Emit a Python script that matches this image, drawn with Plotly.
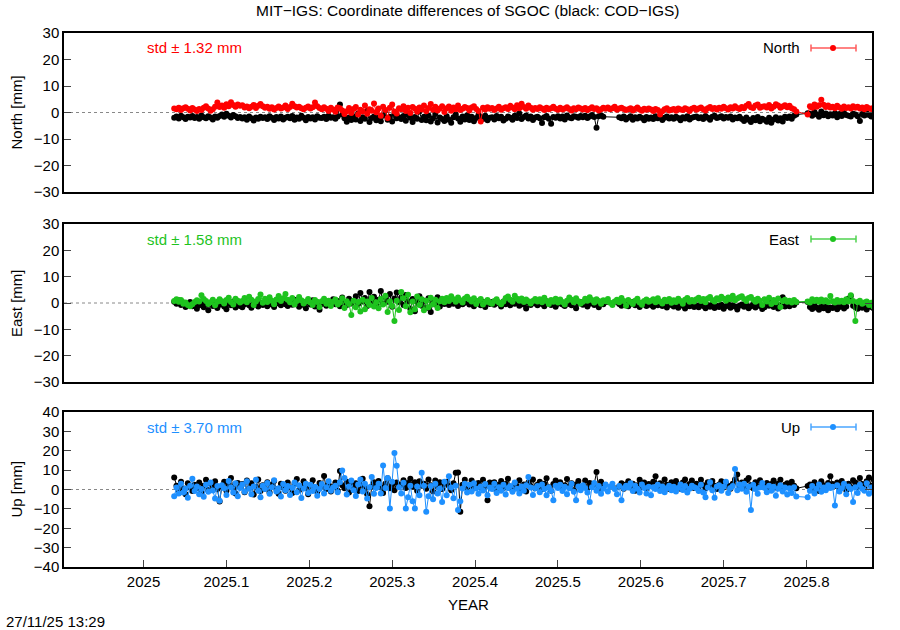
import numpy as np
import plotly.graph_objects as go

# ---------------- data (daily, day-of-year 14 .. 323 of 2025) ----------------
DOY_FIRST = 14
DOY_LAST = 323

north_mit = [
    1.5, 1.2, 1.8, 0.9, 1.6, 2.0, 1.4, 0.8, 1.7, 1.1,
    0.6, 1.3, 0.9, 1.8, 2.4, 1.5, 0.7, 1.2, 2.2, 3.8,
    2.1, 2.6, 1.8, 3.1, 2.4, 3.9, 2.8, 2.2, 3.0, 2.5,
    2.7, 1.9, 2.3, 1.6, 2.2, 2.8, 1.7, 2.5, 3.2, 2.4,
    1.8, 2.2, 1.4, 2.0, 1.1, 1.7, 2.3, 1.5, 1.9, 2.6,
    1.3, 2.1, 3.3, 2.4, 1.9, 2.2, 1.6, 1.2, 1.8, 2.3,
    1.5, 2.0, 3.8, 2.4, 1.7, 1.2, 2.0, 1.4, 0.6, 1.8,
    1.1, 0.3, 1.9, 1.6, 0.8, -0.6, 0.5, 1.7, -0.2, 1.3,
    2.1, -0.8, 1.0, 0.4, 2.6, -0.5, 1.2, 0.7, 3.4, 0.1,
    1.5, -1.2, 2.2, 0.9, -2.1, 1.8, 3.0, 0.4, -0.4, 1.6,
    1.2, 2.4, 0.6, 1.8, -0.2, 2.1, 1.4, 0.3, 1.9, 1.1,
    2.6, 0.5, 1.7, 3.2, 1.0, 2.2, 0.8, 1.5, 2.4, 0.2,
    1.6, 2.3, 0.7, 1.9, 1.2, 2.6, 0.9, 1.4, 2.1, 1.7,
    0.8, 1.9, 2.4, 1.3, 0.6, -3.4, 1.8, 1.1, 2.0, 1.4,
    1.7, 0.9, 1.5, 2.2, 1.0, 1.6, 2.0, 1.3, 2.5, 1.9,
    1.2, 2.7, 1.6, 3.3, 2.1, 1.4, 2.6, 1.8, 1.0, 1.7,
    1.3, 2.0, 1.5, 0.9, 1.8, 1.2, 1.6, 2.2, 1.4, 1.0,
    1.8, 1.1, 1.5, 2.0, 1.3, 0.8, 1.6, 1.2, 1.9, 1.5,
    1.1, 1.7, 0.9, 1.4, 2.0, 1.3, 1.6, 0.8, 1.2, 1.8,
    1.4, 1.9, 1.2, 1.6, 2.2, 1.0, 1.5, 1.8, 1.3, 0.9,
    1.2, 1.6, 0.8, 1.3, 1.9, 1.1, 0.7, 1.4, 1.0, 1.5,
    1.1, 0.6, 1.3, 0.9, -0.8, 0.5, 1.2, 1.6, 0.8, 1.0,
    1.3, 0.7, 1.5, 1.1, 0.9, 1.6, 1.2, 0.6, 1.4, 1.8,
    1.0, 1.5, 1.9, 1.2, 0.8, 1.6, 2.1, 1.3, 1.7, 1.1,
    1.8, 1.4, 2.2, 1.6, 1.1, 2.0, 1.5, 2.4, 1.7, 1.3,
    2.1, 1.6, 2.5, 3.2, 2.0, 1.7, 2.6, 3.0, 1.8, 2.2,
    2.4, 1.9, 2.8, 1.5, 2.2, 3.1, 2.6, 1.8, 2.3, 2.7,
    2.0, 2.5, 1.6, 1.2, 0.4, None, None, None, None, -0.8,
    2.4, 1.8, 3.0, 2.2, 2.7, 4.8, 2.9, 2.1, 2.6, 1.9,
    2.2, 1.6, 2.5, 1.9, 1.4, 2.3, 1.7, 2.0, 1.5, 2.4,
    1.8, 2.2, 1.5, 1.9, 1.2, 2.1, 1.6, 1.3, 1.8, 1.0,
]

north_cod = [
    -2.0, -1.5, -2.3, -1.2, -1.8, -2.5, -1.6, -1.9, -1.3, -2.1,
    -1.7, -2.4, -1.1, -1.8, -2.2, -1.4, -1.9, -2.6, -1.5, -2.0,
    -1.3, -0.8, -1.6, -0.5, -1.2, -1.9, -0.9, -1.4, -2.1, -1.7,
    -2.3, -1.8, -2.7, -1.5, -2.2, -3.0, -1.9, -2.4, -1.6, -2.1,
    -1.8, -2.5, -1.4, -2.0, -2.8, -1.7, -2.3, -1.5, -2.6, -2.0,
    -1.6, -2.2, -1.3, -2.7, -1.9, -2.4, -1.2, -2.0, -2.9, -1.7,
    -2.3, -1.8, -2.6, -1.4, -2.0, -2.1, -1.6, -2.5, -1.2, -2.0,
    -1.8, -2.4, -1.5, 3.0, -0.8, -2.2, -3.5, -1.9, -2.8, -1.4,
    -2.6, -0.4, -3.2, -1.8, -2.4, 0.6, -3.6, -2.1, -1.5, -2.9,
    -2.0, -3.3, -1.2, 0.8, -2.7, -1.6, -3.4, -0.5, -2.2, -1.8,
    -2.5, -1.3, -3.1, -0.9, -2.0, -3.6, -1.7, -2.4, 0.4, -2.8,
    -1.6, -2.9, -1.1, -3.4, -2.2, -0.6, -3.8, -1.9, -2.5, -3.2,
    -1.4, -2.7, -3.9, -1.8, -0.8, -2.3, -3.5, -1.5, -2.6, -1.0,
    -2.8, -1.6, -3.3, -2.1, -0.9, -1.7, -2.5, -1.2, -2.9, -2.0,
    -1.8, -2.6, -1.3, -2.2, -1.6, -3.0, -2.4, -1.5, -2.0, -2.7,
    -1.2, -2.1, -0.4, -2.5, -1.7, -1.1, -2.3, -1.5, -2.8, -1.9,
    -1.6, -2.2, -4.0, -1.8, -1.3, -2.4, -4.2, -1.7, -2.0, -1.4,
    -2.3, -1.5, -2.6, -1.1, -1.9, -2.2, -1.4, -1.6, -2.0, -1.3,
    -1.8, -1.2, -2.1, -1.5, -0.9, -1.7, -5.8, -1.4, -1.0, -1.6,
    None, None, None, None, None, None, -1.8, -2.2, -1.5, -2.6,
    -2.0, -1.4, -2.7, -1.8, -2.3, -1.6, -2.1, -2.9, -1.7, -2.4,
    -1.9, -2.5, -1.4, -2.2, -1.7, -2.8, -2.0, -1.5, -2.3, -1.8,
    -2.4, -1.6, -2.1, -2.9, -1.8, -2.3, -1.4, -2.6, -2.0, -1.7,
    -1.5, -2.2, -1.8, -2.5, -1.3, -2.0, -2.7, -1.6, -1.2, -2.1,
    -1.8, -1.4, -2.3, -1.7, -2.0, -1.5, -2.6, -1.9, -2.2, -1.6,
    -2.5, -3.2, -1.9, -2.7, -3.6, -2.1, -2.9, -1.7, -3.3, -2.4,
    -2.8, -3.5, -2.0, -3.9, -2.6, -1.8, -3.0, -2.2, -3.4, -1.6,
    -2.1, -1.5, -2.4, -1.2, -0.8, None, None, None, None, -0.3,
    -0.5, -1.2, 0.2, -0.8, -1.6, 0.4, -1.0, -0.4, -1.4, -0.7,
    -1.1, -0.3, -1.8, -0.6, -1.3, -0.2, -0.9, -1.2, -1.5, -0.5,
    -0.8, -1.4, -3.2, -0.6, -1.1, -0.3, -0.9, -1.5, -0.4, -1.0,
]

east_mit = [
    0.8, 1.4, 0.5, 1.1, -0.3, 0.2, -0.8, -1.2, -0.5, 0.4,
    1.0, 0.6, 2.9, 1.5, 0.8, -0.4, 0.3, 1.2, -0.9, 0.5,
    1.4, 0.7, -0.2, 1.1, 2.0, 0.4, -0.6, 1.6, 0.9, 0.2,
    0.8, 1.9, 0.3, 2.4, 1.2, -0.8, 0.6, 1.5, 3.2, 0.1,
    1.6, 0.4, 2.2, 0.9, -0.5, 1.3, 2.7, 0.8, 1.8, 3.4,
    1.2, 0.3, 1.9, -0.6, 0.8, 2.3, 1.0, -0.2, 0.6, 1.5,
    0.2, -0.8, 1.1, 0.4, -1.5, 0.7, 1.6, -0.3, 0.9, -1.1,
    0.5, 1.3, -0.6, 0.2, 1.8, -1.9, 0.7, -0.4, -4.6, 0.9,
    -1.6, 0.4, -3.2, 1.2, -2.4, 0.6, -0.8, 1.9, -1.3, 0.3,
    -2.0, 1.5, -0.6, 2.8, -3.4, 0.7, -1.1, -6.8, 0.9, -2.7,
    4.2, 1.8, -1.2, 3.1, -3.5, 0.6, -2.4, 2.5, -0.8, 1.4,
    -2.8, 0.9, -1.6, 2.0, -0.5, 1.2, -1.9, 0.7, 1.6, 0.3,
    1.9, 0.8, 2.6, 1.4, 0.5, 2.1, 1.0, 0.2, 1.7, 2.4,
    1.3, 0.6, 1.8, -0.4, 0.9, 1.5, -0.6, 0.4, 1.1, 0.1,
    -0.3, 0.8, 1.4, 0.2, -0.5, 0.6, 1.9, 2.5, 1.2, 0.5,
    2.8, 1.6, 0.9, 1.7, 0.4, 1.3, 0.7, -0.2, 0.8, 1.5,
    0.6, 1.4, 0.3, 2.0, 0.8, -0.4, 1.1, 0.5, 1.6, 0.2,
    1.3, 0.4, -0.6, 0.9, 2.1, 1.2, 0.3, 1.8, 0.7, -0.2,
    0.5, 1.6, 0.9, 2.2, 1.1, 0.2, 1.4, 0.8, -0.3, 1.0,
    0.7, 1.5, 0.1, -0.8, 0.6, 1.2, 0.3, 1.9, 0.8, -1.0,
    1.1, 0.4, -0.4, 0.9, 1.6, 0.2, -0.7, 0.8, 1.3, 0.5,
    0.9, 1.4, 0.3, 1.8, 0.6, -0.2, 1.2, 0.7, 1.5, 0.1,
    1.0, 0.4, 1.6, 0.8, -0.3, 1.2, 1.9, 0.5, 1.1, 0.6,
    1.4, 2.0, 0.8, 1.5, 0.3, 1.7, 2.3, 1.1, 0.6, 1.8,
    1.2, 2.4, 1.6, 0.9, 2.1, 1.4, 2.8, 1.0, 1.7, 2.2,
    2.6, 1.5, 0.8, 1.9, 2.3, 1.2, 0.5, 1.6, 0.9, -0.8,
    1.4, 0.6, 2.0, -0.4, 1.1, 0.3, 1.7, -1.5, 0.8, 1.2,
    0.5, 0.9, 0.2, 1.1, 0.4, None, None, None, None, 0.6,
    0.2, 1.4, 0.8, 1.2, 0.5, 1.3, 0.6, 1.0, 0.4, 2.7,
    0.7, 0.2, 1.1, 0.5, 0.9, 0.3, 1.4, 0.6, 2.9, 0.8,
    -6.8, 0.4, 0.9, -0.3, 0.2, 0.6, -0.8, 0.1, -1.4, -0.6,
]

east_cod = [
    0.5, -0.3, 1.0, -0.8, 0.2, -1.5, -0.6, 0.4, -1.2, -0.4,
    -2.2, -0.9, 0.3, -1.6, -0.5, -2.8, 0.1, -1.1, -0.3, -1.9,
    -0.7, 0.4, -1.3, -2.4, -0.2, -0.9, 0.6, -1.7, -0.4, -1.1,
    -1.6, -0.5, 0.2, -0.9, -1.8, 0.5, -0.6, -1.3, 0.1, -0.8,
    -0.3, -1.2, 0.8, -0.6, -1.5, 0.3, -0.2, -0.9, 1.0, -0.5,
    -1.1, 0.4, -0.7, 1.2, -0.3, -1.4, 0.6, -0.8, -2.0, 0.2,
    -0.6, 1.0, -1.3, 0.3, -2.6, -0.4, 0.7, -1.0, 0.5, -0.2,
    1.4, -0.5, 0.8, -1.2, 2.1, 0.3, -0.8, 1.6, -0.2, 0.9,
    2.6, -0.4, 3.8, 0.6, 1.9, -1.1, 4.2, 0.8, 2.4, -0.6,
    1.2, 4.6, -0.3, 2.2, 0.5, 3.4, -1.4, 1.7, 4.0, 0.4,
    2.1, -0.8, 3.0, 0.7, -2.2, 1.5, -3.1, 0.4, 2.6, -1.0,
    0.9, -1.9, 1.8, -3.4, 0.3, -0.6, 2.2, -1.3, 0.5, -0.4,
    0.6, -0.8, 1.2, -0.3, 0.4, -1.1, 0.8, -0.5, 0.1, 1.0,
    -0.6, 0.3, -1.2, 0.7, -0.2, -0.9, 0.5, -1.5, 0.2, -0.4,
    0.4, -0.7, 0.9, -0.2, -1.3, 0.6, -0.5, 0.2, -0.9, 0.8,
    -0.3, 0.5, -1.0, 0.1, -0.6, -2.1, 0.3, -0.8, 0.6, -0.2,
    -0.9, 0.4, -0.4, -1.2, 0.7, -0.1, -0.8, 0.2, -1.4, -0.3,
    0.5, -0.6, -1.1, 0.3, -0.4, -0.9, 0.6, -2.0, -0.2, 0.4,
    -0.7, 0.2, -1.3, -0.3, 0.5, -0.8, -0.1, -1.6, 0.3, -0.5,
    None, None, None, None, None, None, -0.4, -1.0, 0.2, -0.7,
    -1.2, -0.3, 0.4, -0.9, -0.2, -1.5, 0.1, -0.6, -1.1, -0.4,
    -0.8, -1.4, -0.2, -0.9, 0.3, -1.1, -0.5, -1.7, -0.3, -0.8,
    -1.3, -0.6, -1.8, -0.4, -1.0, -2.1, -0.7, -1.2, -0.3, -1.5,
    -0.9, -1.6, -0.5, -1.1, -2.0, -0.8, -1.4, -0.6, -1.9, -1.0,
    -1.5, -0.7, -2.2, -1.2, -0.4, -1.8, -0.9, -1.3, -2.5, -1.0,
    -0.6, -1.4, -0.9, -2.0, -1.2, -0.5, -1.7, -0.8, -1.1, -2.3,
    -1.6, -0.4, -1.0, 0.8, -1.5, -0.3, -2.1, -0.9, 2.2, -1.3,
    -0.5, -1.2, -0.2, -0.8, 0.2, None, None, None, None, 0.4,
    -1.5, -2.3, -0.9, -1.8, -2.6, -1.2, -2.0, -1.4, -2.8, -1.7,
    -1.9, -1.1, -2.4, -1.5, -0.8, -2.1, -1.3, 1.6, 2.7, -1.0,
    -1.6, -2.2, -0.9, -1.8, -1.2, -2.5, -0.7, -1.5, -2.0, -2.6,
]

up_mit = [
    -3.5, 1.0, -2.0, 3.0, -1.5, 0.5, -4.2, 2.0, 5.5, -0.8,
    1.5, -2.5, 0.3, -3.8, 2.4, -1.2, 3.6, -0.5, -4.6, 1.8,
    -5.8, 2.2, 0.6, -2.8, 4.4, 1.0, -1.6, 3.2, -3.5, 0.8,
    2.6, -1.2, 4.2, 0.4, -2.4, 1.6, 5.0, -0.6, -4.0, 2.0,
    0.3, 3.4, -2.2, 1.2, 4.8, -1.0, 0.6, -3.6, 2.8, -0.4,
    1.8, -2.8, 0.9, 3.6, -1.4, 2.2, -4.4, 0.5, 3.0, -1.8,
    2.4, -0.8, 1.4, -3.2, 0.2, 2.9, -2.0, 1.1, 4.2, -0.6,
    1.0, 2.0, -1.4, 3.8, 9.8, 6.0, -2.6, 1.5, 4.6, -0.4,
    -3.4, 2.6, 5.2, -1.0, 3.0, -4.6, 1.2, 6.4, -2.2, 0.8,
    3.0, -2.0, 12.4, 0.8, 6.0, -9.8, 4.0, 18.8, 12.2, 1.2,
    -2.0, 3.5, -9.8, -4.0, 2.0, -6.0, -9.8, 1.5, -3.0, 8.6,
    2.0, -11.5, -3.5, 1.8, -5.0, 3.0, -2.0, 0.5, -6.5, 4.0,
    -3.0, 6.9, 1.0, -4.5, 2.0, -10.6, -6.0, 0.5, 3.0, -1.5,
    2.5, -1.0, 3.2, 0.5, -2.2, 1.5, -0.5, 2.8, -3.0, 1.0,
    0.2, 3.0, -1.8, 1.2, -0.6, 2.4, -2.6, 0.8, 1.8, -1.2,
    3.6, 0.4, -2.0, 1.6, -0.6, 2.2, 6.5, 1.0, -2.8, 0.6,
    1.8, -1.4, 2.6, 0.2, -3.0, 1.2, -0.6, -5.5, 2.0, 0.8,
    2.4, -0.8, 1.4, -2.4, 0.6, 3.0, -1.2, -5.5, 1.6, -0.4,
    2.2, 0.8, -1.6, -6.4, 1.2, 3.4, -0.6, 1.8, -2.2, 0.4,
    2.6, -1.0, 1.4, 3.0, 0.2, -2.4, 1.8, -5.5, 0.6, 2.0,
    1.0, 3.2, -0.8, 2.0, 0.4, -1.6, 2.6, 0.8, -2.0, 1.4,
    -3.0, 1.2, 0.2, 2.4, -0.8, 1.6, -1.4, 0.6, 2.0, -0.4,
    1.4, -1.0, 0.8, 2.6, -0.2, 1.8, -1.6, 0.4, 2.0, 1.2,
    0.6, -0.8, 2.4, -1.6, -4.0, 1.0, 3.8, -0.4, -4.2, 1.6,
    2.2, -0.6, 1.4, 4.0, -1.8, 0.8, 1.8, 10.6, -0.4, 2.6,
    0.4, 3.0, -1.2, 1.6, -10.6, 2.4, 0.2, -2.2, 1.2, 3.4,
    0.8, -1.4, 2.0, -0.6, 1.4, -3.2, 0.4, 2.2, -1.0, 1.0,
    -2.6, 0.6, -1.8, 1.2, -3.6, None, None, None, None, -4.0,
    -0.6, 1.8, -2.0, 0.4, 2.6, -1.2, 1.0, -0.4, 2.2, 0.8,
    1.4, -8.3, 2.2, -1.0, 0.6, 3.0, -2.4, 1.6, 0.2, -6.4,
    1.2, -1.8, 2.4, 0.4, -0.6, 3.2, -2.2, 1.0, -1.4, -0.4,
]

up_cod = [
    6.2, 2.0, -1.5, 4.0, 0.5, -2.5, 3.2, 1.0, -0.8, 2.4,
    0.8, 3.6, -1.2, 2.0, 5.0, -0.4, 3.0, 1.8, 4.2, 0.2,
    -6.2, 1.6, 4.0, -0.6, 2.6, 6.0, 0.8, -2.0, 3.4, 1.2,
    2.8, -1.4, 4.6, 0.6, 3.2, -2.6, 1.4, 5.2, -0.8, 2.2,
    0.4, 3.8, -1.6, 2.4, 4.4, 0.2, -2.2, 3.0, 1.2, -0.6,
    3.6, 1.0, -1.8, 2.8, 5.4, -0.4, 1.6, 4.2, 0.6, -2.4,
    2.0, 4.8, 0.4, -1.2, 3.4, 1.8, 7.0, 0.2, 2.6, -1.0,
    1.4, 3.6, -0.6, 9.5, 2.2, 0.6, 4.0, -1.6, 2.8, 1.0,
    3.2, -0.8, 2.0, 5.6, 0.4, -2.4, -8.6, 1.6, 3.8, 2.4,
    4.4, 1.2, -1.8, 3.0, 5.8, 0.6, 2.4, -0.4, 3.6, 1.8,
    2.6, 4.8, 0.8, 3.4, 5.6, 1.4, 3.8, -0.6, 4.2, 2.0,
    3.0, 0.4, 5.2, 2.2, -1.0, 4.6, 1.6, 3.8, 0.2, 2.8,
    4.0, 1.8, -0.4, 3.2, 8.6, 8.8, -11.5, 2.4, 5.0, 1.0,
    2.2, 4.6, 0.6, 3.0, 3.4, 1.4, 5.0, 2.0, -5.5, 3.6,
    1.0, 3.8, -0.6, 2.4, 4.4, 0.8, 2.8, 5.6, 1.2, -0.4,
    3.2, 1.6, 4.8, 0.4, 2.6, -1.0, 3.6, 1.8, 5.2, 0.6,
    2.4, 4.0, 0.2, 3.0, 5.8, 1.2, -0.6, 2.8, 4.6, 1.6,
    3.8, 0.8, 2.2, 5.4, 1.4, 3.2, -0.4, 2.6, 4.4, 1.0,
    2.0, 4.6, 0.6, 3.4, 1.8, 2.8, 9.0, 0.2, 4.0, 2.4,
    None, None, None, None, None, None, 1.6, 3.2, 0.4, 2.6,
    4.2, 1.0, 3.0, -0.6, 2.2, 5.0, 1.4, 3.6, 0.6, 2.8,
    2.0, 4.0, 6.9, 0.8, 3.2, 1.6, 5.2, 2.4, 0.2, 3.8,
    1.8, 4.4, 2.6, 0.4, 3.6, 5.2, 1.2, 2.8, 4.6, 0.8,
    3.0, 1.4, 5.0, 2.2, 0.6, 3.8, 1.6, 4.4, 2.0, 0.2,
    2.6, 4.2, 1.0, 3.4, 2.0, 0.4, 3.0, 5.2, 7.8, 1.8,
    3.6, 1.2, 4.6, 6.0, 2.2, 0.6, 3.8, 1.4, 4.8, 2.6,
    1.6, 3.4, 0.2, 2.8, 4.6, 1.0, 3.0, 5.0, 0.8, 2.4,
    3.2, 1.4, 4.0, 2.0, 0.6, None, None, None, None, 1.8,
    2.6, 0.4, 3.8, 1.6, -0.8, 4.2, 2.2, 0.8, 3.4, 6.9,
    2.8, 1.8, 3.6, 0.6, 4.4, 2.4, -0.4, 3.0, 1.2, 4.8,
    3.6, 1.4, 6.0, 2.8, 0.4, 4.2, 6.2, 2.0, 5.2, 1.6,
]

x_ticks = [2025.0, 2025.1, 2025.2, 2025.3, 2025.4, 2025.5, 2025.6, 2025.7, 2025.8]
x_tick_labels = ["2025", "2025.1", "2025.2", "2025.3", "2025.4",
                 "2025.5", "2025.6", "2025.7", "2025.8"]
components = ["North", "East", "Up"]
std_values = [1.32, 1.58, 3.70]

# ---------------- figure ----------------
doy = np.arange(DOY_FIRST, DOY_LAST + 1)
years = 2025 + (doy - 0.5) / 365.0
for arr in (north_mit, north_cod, east_mit, east_cod, up_mit, up_cod):
    assert len(arr) == len(years), len(arr)

FONT = "Liberation Sans, Arial, Helvetica, sans-serif"
FS = 15
RED = "#ff0000"
GREEN = "#1ec31e"
BLUE = "#1e90ff"
colors = [RED, GREEN, BLUE]
KEY_COLORS = ["#ff5a5a", "#4fd24f", "#4aa6ff"]

fig = go.Figure()
series = [(north_cod, north_mit, "y"), (east_cod, east_mit, "y2"), (up_cod, up_mit, "y3")]
xrefs = ["x", "x2", "x3"]
for i, (cod, mit, yax) in enumerate(series):
    fig.add_trace(go.Scatter(
        x=years, y=cod, mode="lines+markers", connectgaps=True,
        line=dict(color="#000000", width=1),
        marker=dict(color="#000000", size=6),
        xaxis=xrefs[i], yaxis=yax, showlegend=False))
    fig.add_trace(go.Scatter(
        x=years, y=mit, mode="lines+markers", connectgaps=True,
        line=dict(color=colors[i], width=1),
        marker=dict(color=colors[i], size=6),
        xaxis=xrefs[i], yaxis=yax, showlegend=False))

XR = [2024.904, 2025.879]
W, H = 900, 630
PW, PH = 808, 534
L = 64
T = 33
R = W - L - PW
B = H - T - PH


def py(pix):
    # screen pixel (from top) -> paper fraction
    return (T + PH - pix) / PH


def px(pix):
    return (pix - L) / PW


# panel pixel extents on screen (top, bottom)
panels = [(33, 192), (224, 382), (412, 567)]
yranges = [[-30, 30], [-30, 30], [-40, 40]]
ydomains = [[py(b), py(t)] for (t, b) in panels]

axis_common = dict(showline=True, linewidth=1.5, linecolor="black",
                   showgrid=False, zeroline=False,
                   tickfont=dict(family=FONT, size=FS, color="black"))

layout = dict(
    width=W, height=H, margin=dict(l=L, r=R, t=T, b=B),
    paper_bgcolor="white", plot_bgcolor="white",
    font=dict(family=FONT, size=FS, color="black"),
    showlegend=False,
)
for i in range(3):
    xa = "xaxis" if i == 0 else f"xaxis{i+1}"
    ya = "yaxis" if i == 0 else f"yaxis{i+1}"
    yanchor = "y" if i == 0 else f"y{i+1}"
    xanchor = "x" if i == 0 else f"x{i+1}"
    last = (i == 2)
    layout[xa] = dict(axis_common, range=XR, domain=[0, 1], anchor=yanchor,
                      mirror=True,
                      tickvals=x_ticks if last else [],
                      ticktext=x_tick_labels if last else [],
                      ticks="inside" if last else "", ticklen=7, tickwidth=1,
                      showticklabels=last)
    layout[ya] = dict(axis_common, range=yranges[i], domain=ydomains[i],
                      anchor=xanchor, dtick=10, tick0=0,
                      ticks="inside", ticklen=7, tickwidth=1, mirror="ticks")
fig.update_layout(**layout)

shapes = []
annotations = []
for i in range(3):
    yref = "y" if i == 0 else f"y{i+1}"
    # dotted zero line
    shapes.append(dict(type="line", xref="paper", yref=yref, x0=0, x1=1, y0=0, y1=0,
                       line=dict(color="#888888", width=1, dash="dot"), layer="below"))
    t, b = panels[i]
    ky = py(t + 15)
    # std annotation
    annotations.append(dict(text=f"std \u00b1 {std_values[i]:.2f} mm", xref="paper", yref="paper",
                            x=px(145), y=ky, xanchor="left", yanchor="middle",
                            showarrow=False, font=dict(family=FONT, size=FS, color=colors[i])))
    # key text
    annotations.append(dict(text=components[i], xref="paper", yref="paper",
                            x=px(802), y=ky, xanchor="right", yanchor="middle",
                            showarrow=False, font=dict(family=FONT, size=FS, color="black")))
    # key sample (error-line style)
    x0, x1, xm = px(811), px(856), px(833)
    cap = 3.5 / PH
    shapes.append(dict(type="line", xref="paper", yref="paper", x0=x0, x1=x1, y0=ky, y1=ky,
                       line=dict(color=KEY_COLORS[i], width=1.5)))
    for xc in (x0, x1):
        shapes.append(dict(type="line", xref="paper", yref="paper", x0=xc, x1=xc,
                           y0=ky - cap, y1=ky + cap, line=dict(color=KEY_COLORS[i], width=1.5)))
    rx, ry = 3 / PW, 3 / PH
    shapes.append(dict(type="circle", xref="paper", yref="paper",
                       x0=xm - rx, x1=xm + rx, y0=ky - ry, y1=ky + ry,
                       fillcolor=colors[i], line=dict(color=colors[i], width=0)))
    # y axis title
    annotations.append(dict(text=f"{components[i]} [mm]", xref="paper", yref="paper",
                            x=px(16), y=py((t + b) / 2), textangle=-90,
                            xanchor="center", yanchor="middle", showarrow=False,
                            font=dict(family=FONT, size=FS, color="black")))

annotations.append(dict(text="MIT\u2212IGS: Coordinate differences of SGOC (black: COD\u2212IGS)",
                        xref="paper", yref="paper", x=0.5, y=py(10),
                        xanchor="center", yanchor="middle", showarrow=False,
                        font=dict(family=FONT, size=15.5, color="black")))
annotations.append(dict(text="YEAR", xref="paper", yref="paper", x=0.5, y=py(604),
                        xanchor="center", yanchor="middle", showarrow=False,
                        font=dict(family=FONT, size=FS, color="black")))
annotations.append(dict(text="27/11/25 13:29", xref="paper", yref="paper", x=px(4), y=py(621),
                        xanchor="left", yanchor="middle", showarrow=False,
                        font=dict(family=FONT, size=FS, color="black")))

fig.update_layout(shapes=shapes, annotations=annotations)
# remove the browser's default page margin so the 900x630 figure fills the window
fig.write_html("out.html",
               config={"displayModeBar": False},
               post_script="document.body.style.margin='0px';document.body.style.overflow='hidden';")
